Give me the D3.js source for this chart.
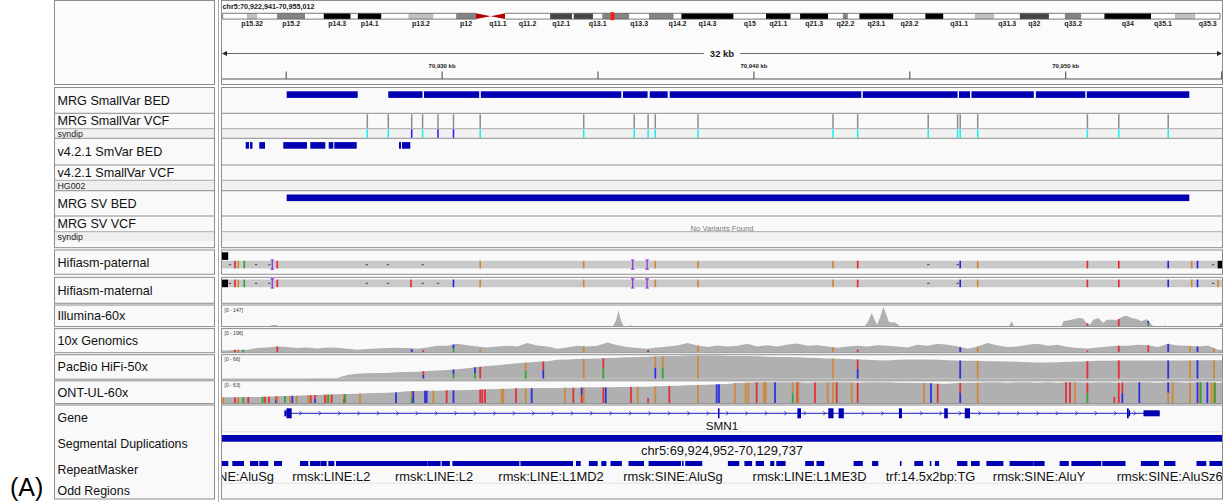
<!DOCTYPE html>
<html>
<head>
<meta charset="utf-8">
<title>SMN1 locus, chr5:70,922,941-70,955,012</title>
<script src="https://cdn.jsdelivr.net/npm/d3@7/dist/d3.min.js"></script>
<style>
  html, body { margin: 0; padding: 0; background: #ffffff; }
  svg { display: block; font-family: "Liberation Sans", Arial, Helvetica, sans-serif; }
</style>
</head>
<body>
<svg id="igv" width="1225" height="502"></svg>
<script>
// ---------------- region ----------------
const chrom = "chr5";
const viewStart = 70922941;
const viewEnd = 70955012;
const chromLength = 181538259;
const panelTag = "(A)";

// ---------------- cytobands (hg38 chr5) ----------------
const cytoBands = [
  ["p15.33", 0, 4400000, "gneg"], ["p15.32", 4400000, 6300000, "gpos25"],
  ["p15.31", 6300000, 9900000, "gneg"], ["p15.2", 9900000, 15000000, "gpos50"],
  ["p15.1", 15000000, 18400000, "gneg"], ["p14.3", 18400000, 23300000, "gpos100"],
  ["p14.2", 23300000, 24600000, "gneg"], ["p14.1", 24600000, 28900000, "gpos100"],
  ["p13.3", 28900000, 33800000, "gneg"], ["p13.2", 33800000, 38400000, "gpos25"],
  ["p13.1", 38400000, 42500000, "gneg"], ["p12", 42500000, 46100000, "gpos50"],
  ["p11", 46100000, 48800000, "acen"], ["q11.1", 48800000, 51400000, "acen"],
  ["q11.2", 51400000, 59600000, "gneg"], ["q12.1", 59600000, 63600000, "gpos75"],
  ["q12.2", 63600000, 63900000, "gneg"], ["q12.3", 63900000, 67400000, "gpos75"],
  ["q13.1", 67400000, 69100000, "gneg"], ["q13.2", 69100000, 74000000, "gpos50"],
  ["q13.3", 74000000, 77600000, "gneg"], ["q14.1", 77600000, 82100000, "gpos50"],
  ["q14.2", 82100000, 83500000, "gneg"], ["q14.3", 83500000, 93000000, "gpos100"],
  ["q15", 93000000, 98900000, "gneg"], ["q21.1", 98900000, 103400000, "gpos100"],
  ["q21.2", 103400000, 105100000, "gneg"], ["q21.3", 105100000, 110200000, "gpos100"],
  ["q22.1", 110200000, 112900000, "gneg"], ["q22.2", 112900000, 113800000, "gpos50"],
  ["q22.3", 113800000, 115900000, "gneg"], ["q23.1", 115900000, 122100000, "gpos100"],
  ["q23.2", 122100000, 127900000, "gneg"], ["q23.3", 127900000, 131200000, "gpos100"],
  ["q31.1", 131200000, 136900000, "gneg"], ["q31.2", 136900000, 140500000, "gpos25"],
  ["q31.3", 140500000, 145100000, "gneg"], ["q32", 145100000, 150400000, "gpos75"],
  ["q33.1", 150400000, 153300000, "gneg"], ["q33.2", 153300000, 156300000, "gpos50"],
  ["q33.3", 156300000, 160500000, "gneg"], ["q34", 160500000, 169000000, "gpos100"],
  ["q35.1", 169000000, 173300000, "gneg"], ["q35.2", 173300000, 177100000, "gpos25"],
  ["q35.3", 177100000, 181538259, "gneg"]
];
const bandLabels = ["p15.32", "p15.2", "p14.3", "p14.1", "p13.2", "p12", "q11.1", "q11.2",
  "q12.1", "q13.1", "q13.3", "q14.2", "q14.3", "q15", "q21.1", "q21.3", "q22.2", "q23.1",
  "q23.2", "q31.1", "q31.3", "q32", "q33.2", "q34", "q35.1", "q35.3"];

// ---------------- track names ----------------
const trackNames = ["MRG SmallVar BED", "MRG SmallVar VCF", "v4.2.1 SmVar BED", "v4.2.1 SmallVar VCF",
  "MRG SV BED", "MRG SV VCF", "Hifiasm-paternal", "Hifiasm-maternal", "Illumina-60x",
  "10x Genomics", "PacBio HiFi-50x", "ONT-UL-60x", "Gene", "Segmental Duplications",
  "RepeatMasker", "Odd Regions"];
const sampleNames = ["syndip", "HG002", "syndip"];

// ---------------- benchmark regions / variants ----------------
const mrgSmallVarBed = [
  [70925016, 70927293], [70928274, 70929371], [70929419, 70931190], [70931241, 70935747],
  [70935801, 70936590], [70936658, 70937235], [70937299, 70943444], [70943492, 70946532],
  [70946577, 70946930], [70946978, 70948976], [70949044, 70950628], [70950676, 70953963]
];
const mrgSmallVarVcf = [70927601, 70928274, 70929025, 70929374, 70929868, 70930365, 70931222,
  70934541, 70936161, 70936606, 70936837, 70938207, 70942536, 70943328, 70945590, 70946532,
  70946616, 70947177, 70950695, 70951702, 70953287];
const mrgSmallVarGenotype = ["HOM", "HOM", "HET", "HOM", "HET", "HET", "HOM", "HOM", "HOM", "HOM",
  "HOM", "HOM", "HOM", "HOM", "HOM", "HOM", "HOM", "HOM", "HOM", "HOM", "HOM"];
const giabSmVarBed = [
  [70923701, 70923807], [70923839, 70923919], [70924137, 70924320], [70924907, 70925667],
  [70925773, 70926254], [70926363, 70926511], [70926543, 70927261], [70928618, 70928682],
  [70928714, 70928980]
];
const giabSmallVarVcf = [];
const mrgSvBed = [[70925016, 70953963]];
const mrgSvVcf = [];

// ---------------- assembly contig alignments ----------------
// [start, end, row, kind]
const paternalAln = [[70922941, 70923140, 0, "clip"], [70922941, 70954860, 1, "contig"], [70954870, 70955012, 1, "clip"]];
const maternalAln = [[70922941, 70923140, 0, "clip"], [70923140, 70955012, 0, "contig"]];
// [position, base | D (deletion) | I (insertion)]
const paternalMarks = [
  [70923198, "D"], [70923358, "T"], [70923464, "G"], [70923656, "A"], [70924031, "D"],
  [70924458, "D"], [70924554, "I"], [70924715, "T"], [70927582, "D"], [70928255, "D"],
  [70929374, "D"], [70931222, "G"], [70934541, "G"], [70936113, "I"], [70936574, "I"],
  [70936837, "G"], [70938207, "G"], [70942536, "G"], [70943328, "T"], [70945590, "D"],
  [70946532, "D"], [70946616, "C"], [70947177, "G"], [70950695, "T"], [70951702, "T"],
  [70953287, "C"], [70954040, "G"], [70954226, "C"], [70954723, "D"]
];
const maternalMarks = [
  [70923198, "D"], [70923358, "T"], [70923464, "G"], [70923656, "A"], [70924031, "D"],
  [70924458, "D"], [70924554, "I"], [70924715, "T"], [70927582, "D"], [70928255, "D"],
  [70929002, "T"], [70929374, "D"], [70929868, "D"], [70930365, "C"], [70931222, "G"],
  [70934541, "G"], [70936113, "I"], [70936574, "I"], [70936837, "G"], [70938207, "G"],
  [70942536, "G"], [70943328, "T"], [70945590, "D"], [70946532, "D"], [70946616, "C"],
  [70947177, "G"], [70950695, "T"], [70951702, "T"], [70953287, "C"], [70954040, "G"],
  [70954226, "C"], [70954723, "D"], [70954884, "G"]
];

// ---------------- read coverage ----------------
const illuminaMax = 147;
const illuminaDepth = [
  [70922941, 0], [70924480, 0], [70924545, 8], [70924673, 8], [70924737, 0], [70935481, 0],
  [70935577, 40], [70935657, 115], [70935737, 40], [70935817, 0], [70935994, 0], [70936042, 7],
  [70936090, 0], [70943563, 0], [70943675, 40], [70943778, 95], [70943883, 40], [70943948, 10],
  [70944044, 60], [70944150, 140], [70944236, 90], [70944332, 30], [70944429, 25], [70944525, 27],
  [70944621, 10], [70944685, 0], [70948181, 0], [70948268, 35], [70948341, 0], [70949871, 0],
  [70949922, 35], [70950137, 44], [70950458, 61], [70950564, 54], [70950673, 22], [70950779, 10],
  [70950885, 46], [70951045, 59], [70951205, 22], [70951314, 46], [70951526, 46], [70951635, 42],
  [70951846, 71], [70951955, 76], [70952116, 59], [70952276, 51], [70952437, 35], [70952597, 51],
  [70952758, 10], [70952809, 0], [70953152, 0], [70953184, 7], [70953216, 0], [70954916, 0],
  [70954980, 22], [70955012, 22]
];
const covBinSize = 321;   // bp per coverage bin, bins start at viewStart
const tenxMax = 196;
const tenxDepth = [15, 21, 21, 36, 42, 50, 45, 36, 42, 33, 42, 39, 30, 21, 27, 33, 36, 39, 36, 30,
  42, 56, 56, 75, 62, 50, 42, 50, 56, 50, 80, 59, 50, 30, 42, 56, 50, 56, 86, 62, 45, 36, 30, 42,
  50, 59, 80, 59, 45, 59, 50, 56, 74, 50, 62, 50, 68, 77, 56, 62, 50, 39, 50, 56, 50, 62, 56, 50,
  42, 65, 56, 74, 65, 50, 30, 50, 80, 59, 45, 50, 65, 74, 56, 65, 45, 36, 33, 42, 50, 56, 56, 65,
  62, 45, 74, 59, 56, 50, 59, 21];
const hifiMax = 66;
const hifiDepth = [0, 0, 0, 0, 0, 0, 0, 0, 0, 1, 1, 2, 10, 14, 15, 16, 16, 18, 19, 20, 22, 23, 25,
  27, 30, 33, 36, 38, 41, 44, 46, 48, 50, 54, 55, 56, 57, 58, 59, 60, 61, 62, 63, 64, 65, 65, 66, 66,
  66, 66, 65, 65, 65, 64, 63, 62, 62, 61, 60, 59, 58, 57, 56, 55, 54, 53, 52, 54, 55, 55, 55, 54, 53,
  52, 51, 51, 50, 50, 49, 48, 47, 46, 46, 47, 48, 49, 50, 51, 51, 52, 52, 52, 52, 52, 52, 52, 52, 53,
  53, 53];
const ontMax = 63;
const ontDepth = [17, 17, 18, 18, 19, 20, 21, 22, 23, 24, 25, 26, 27, 28, 29, 30, 31, 32, 35, 36, 37,
  37, 38, 38, 39, 40, 41, 42, 43, 44, 44, 45, 45, 45, 46, 46, 47, 47, 47, 48, 48, 49, 49, 50, 51, 52,
  53, 54, 55, 56, 57, 60, 61, 62, 62, 62, 62, 62, 61, 62, 62, 62, 62, 61, 62, 62, 62, 61, 61, 60, 60,
  58, 58, 60, 61, 61, 62, 62, 61, 62, 62, 61, 62, 61, 62, 62, 61, 62, 62, 61, 62, 62, 62, 61, 62, 62,
  61, 62, 62, 61];

// mismatch columns: [position, bases (top to bottom), fraction of depth]
const illuminaMismatch = [[70950695, "T", 1], [70951702, "T", 1], [70952648, "CA", 1]];
const tenxMismatch = [
  [70923358, "T", 1], [70923464, "G", 1], [70923624, "A", 1], [70924715, "T", 1], [70929025, "C", 0.8],
  [70929397, "T", 0.5], [70930365, "CA", 1], [70931222, "G", 0.5], [70934541, "G", 1], [70936606, "TC", 0.6],
  [70938207, "G", 1], [70942536, "G", 1], [70943328, "T", 0.4], [70946616, "C", 1], [70947177, "G", 1],
  [70950695, "T", 0.4], [70951702, "T", 1], [70952648, "T", 1], [70953287, "C", 1], [70953986, "G", 1],
  [70954226, "C", 1], [70954755, "G", 1]
];
const hifiMismatch = [
  [70929397, "TC", 1], [70930365, "CA", 1], [70931055, "CA", 1], [70931222, "T", 1], [70932681, "GA", 1],
  [70933245, "TC", 1], [70934541, "G", 1], [70935170, "TA", 1], [70936837, "GC", 1], [70937075, "GA", 1],
  [70938207, "G", 1], [70942536, "G", 1], [70943328, "TC", 1], [70946616, "C", 1], [70947177, "G", 1],
  [70950695, "T", 1], [70951702, "T", 1], [70953287, "C", 1], [70953986, "G", 1], [70954226, "C", 1],
  [70954755, "G", 1]
];
const ontMismatch = [
  [70922983, "G", 1], [70923358, "T", 1], [70923464, "G", 1], [70923624, "A", 1], [70923784, "T", 1],
  [70924246, "A", 1], [70924320, "T", 1], [70924448, "T", 1], [70924673, "TC", 1], [70924715, "G", 1],
  [70924961, "A", 1], [70925122, "G", 1], [70925196, "C", 1], [70925337, "G", 1], [70925709, "G", 1],
  [70925786, "T", 1], [70925924, "TC", 1], [70926244, "T", 1], [70926299, "G", 1], [70926350, "A", 1],
  [70926459, "T", 1], [70926854, "GT", 1], [70926886, "A", 1], [70927367, "G", 1], [70928521, "C", 1],
  [70929025, "GA", 1], [70929076, "C", 1], [70929451, "C", 1], [70929506, "C", 1], [70929718, "G", 1],
  [70930147, "T", 1], [70930365, "C", 1], [70931222, "T", 1], [70931289, "T", 1], [70931376, "T", 1],
  [70931911, "G", 1], [70931963, "G", 1], [70932370, "T", 1], [70932681, "G", 1], [70932873, "C", 1],
  [70933941, "G", 1], [70934208, "T", 1], [70934477, "CT", 1], [70934541, "G", 1], [70935170, "T", 1],
  [70935247, "C", 1], [70936058, "T", 1], [70936273, "G", 1], [70936606, "T", 0.3], [70936837, "G", 1],
  [70937286, "T", 1], [70938207, "G", 1], [70938806, "C", 1], [70938880, "C", 1], [70939393, "G", 1],
  [70939737, "G", 1], [70939820, "G", 1], [70940089, "T", 1], [70940323, "G", 1], [70940378, "G", 1],
  [70940676, "C", 1], [70941244, "GA", 1], [70941391, "T", 1], [70941424, "G", 1], [70941959, "T", 1],
  [70942367, "G", 1], [70942536, "G", 1], [70942655, "T", 1], [70943136, "G", 1], [70943328, "T", 1],
  [70945455, "G", 1], [70945679, "C", 1], [70945894, "T", 1], [70946616, "TC", 1], [70947177, "G", 1],
  [70950009, "T", 1], [70950137, "T", 1], [70950298, "G", 1], [70950695, "TA", 1], [70951558, "T", 0.3],
  [70951702, "T", 1], [70951815, "TC", 1], [70952360, "C", 1], [70953287, "CG", 1], [70953431, "G", 1],
  [70953986, "G", 1], [70954226, "C", 1], [70954306, "G", 1], [70954329, "A", 1], [70954541, "C", 1],
  [70954681, "G", 1], [70954755, "G", 1], [70954787, "A", 1]
];

// ---------------- annotation ----------------
const geneName = "SMN1";
const geneStart = 70924941, geneEnd = 70953015;
const cdsStart = 70925010, cdsEnd = 70952020;
const smn1Exons = [
  [70924941, 70925176], [70938848, 70938896], [70941395, 70941510], [70942386, 70942552],
  [70942716, 70942883], [70944650, 70944749], [70946103, 70946218], [70946763, 70946930],
  [70951965, 70952049], [70952494, 70953015]
];
const segDups = [[70750300, 70955100, "chr5:69,924,952-70,129,737"]];
const repeatMasker = [
  [70922880, 70923143, "rmsk:SINE:AluSg"], [70923271, 70923647, ""], [70923839, 70924105, ""],
  [70924137, 70924426, ""], [70924609, 70924865, ""], [70925443, 70925709, ""],
  [70925763, 70926106, ""], [70926116, 70926299, ""], [70926350, 70926543, "rmsk:LINE:L2"],
  [70926597, 70929532, ""], [70929532, 70929952, "rmsk:LINE:L2"], [70929984, 70930250, ""],
  [70930330, 70932479, ""], [70932511, 70932787, ""], [70932787, 70934198, "rmsk:LINE:L1MD2"],
  [70934294, 70934445, ""], [70934708, 70934990, ""], [70935106, 70935269, ""],
  [70935401, 70935766, ""], [70935978, 70936475, ""], [70936622, 70937148, ""],
  [70937148, 70937662, "rmsk:SINE:AluSg"], [70937694, 70937745, ""], [70937796, 70938342, ""],
  [70939166, 70939531, ""], [70939695, 70939942, ""], [70940057, 70940323, ""],
  [70940522, 70940654, ""], [70940718, 70941016, ""], [70941645, 70941924, "rmsk:LINE:L1ME3D"],
  [70942007, 70942254, ""], [70943197, 70943492, ""], [70943790, 70943989, ""],
  [70944682, 70944733, ""], [70945144, 70945426, ""], [70945641, 70945689, "trf:14.5x2bp:TG"],
  [70945805, 70945939, ""], [70946516, 70946847, ""], [70946962, 70947241, ""],
  [70947456, 70948001, ""], [70948200, 70948967, ""], [70948967, 70949323, "rmsk:SINE:AluY"],
  [70949804, 70950099, ""], [70950182, 70951141, ""], [70951173, 70951917, ""],
  [70952411, 70952988, ""], [70953152, 70953518, "rmsk:SINE:AluSz6"], [70954194, 70954508, ""],
  [70954608, 70955044, ""]
];
const oddRegions = [];

// =====================================================================
const svg = d3.select("#igv");
const fmt = d3.format(",");
const X0 = 222, X1 = 1222;
const x = d3.scaleLinear().domain([viewStart, viewEnd]).range([X0, X1]);
const NAME_X0 = 54.5, NAME_X1 = 214.5, DATA_X0 = 221.5, DATA_X1 = 1222.5;
const FRAME = "#8c8c8c";
const PANEL = "#f9f9f9";
const FEATURE_BLUE = "#0000b2";
const COVER_GRAY = "#b0b0b0";
const baseColor = { A: "#2ba02d", C: "#2222e6", G: "#d2842c", T: "#e8232b" };
const gtColor = { HOM: "#16eef6", HET: "#2216f0" };

svg.append("defs").append("clipPath").attr("id", "clipData")
  .append("rect").attr("x", X0).attr("y", 0).attr("width", X1 - X0).attr("height", 502);

function box(x0, y0, x1, y1, fill) {
  return svg.append("rect").attr("x", x0).attr("y", y0).attr("width", x1 - x0).attr("height", y1 - y0)
    .attr("fill", fill).attr("stroke", FRAME).attr("stroke-width", 1);
}
function hline(x0, x1, y, color, w) {
  svg.append("line").attr("x1", x0).attr("x2", x1).attr("y1", y).attr("y2", y)
    .attr("stroke", color).attr("stroke-width", w || 1);
}
function nameText(label, y, size) {
  svg.append("text").attr("x", 57.5).attr("y", y).attr("font-size", size).attr("fill", "#111").text(label);
}
const dataLayer = () => svg.append("g").attr("clip-path", "url(#clipData)");

// ---------------- header ----------------
box(NAME_X0, 0.5, NAME_X1, 84.5, "#fcfcfc");
box(DATA_X0, 0.5, DATA_X1, 84.5, "#fbfbfb");

svg.append("text").attr("x", 222.5).attr("y", 9.3).attr("font-size", 7.2).attr("font-weight", "bold")
  .attr("fill", "#222").text(`${chrom}:${fmt(viewStart)}-${fmt(viewEnd)}`);

// ideogram
const ideo = d3.scaleLinear().domain([0, chromLength]).range([222.7, 1220]);
const IY = 13.3, IH = 5.8;
const stainFill = { gneg: "#ffffff", gpos25: "#c0c0c0", gpos50: "#848484", gpos75: "#464646", gpos100: "#000000" };
const gIdeo = svg.append("g");
cytoBands.forEach(([name, s, e, stain]) => {
  const a = ideo(s), b = ideo(e);
  if (stain === "acen") {
    const pts = name.startsWith("p")
      ? [[a, IY], [b, IY + IH / 2], [a, IY + IH]]
      : [[a, IY + IH / 2], [b, IY], [b, IY + IH]];
    gIdeo.append("polygon").attr("points", pts.map(p => p.join(",")).join(" ")).attr("fill", "#b30000");
  } else {
    gIdeo.append("rect").attr("x", a).attr("y", IY).attr("width", b - a).attr("height", IH)
      .attr("fill", stainFill[stain]);
    [IY, IY + IH].forEach(yy => gIdeo.append("line").attr("x1", a).attr("x2", b).attr("y1", yy).attr("y2", yy)
      .attr("stroke", "#5a5a5a").attr("stroke-width", 0.8));
  }
});
[ideo(0), ideo(chromLength)].forEach(xx => gIdeo.append("line").attr("x1", xx).attr("x2", xx)
  .attr("y1", IY).attr("y2", IY + IH).attr("stroke", "#5a5a5a").attr("stroke-width", 0.8));
cytoBands.filter(b => bandLabels.includes(b[0])).forEach(([name, s, e]) => {
  gIdeo.append("text").attr("x", (ideo(s) + ideo(e)) / 2).attr("y", 26).attr("text-anchor", "middle")
    .attr("font-size", 7).attr("font-weight", "bold").attr("fill", "#1e1e1e").text(name);
});
// current view marker
const mid = ideo((viewStart + viewEnd) / 2);
gIdeo.append("rect").attr("x", mid - 1.8).attr("y", 12.2).attr("width", 3.6).attr("height", 8)
  .attr("fill", "#ff1a1a");

// ruler
const RY = 53.5;
hline(X0 + 4, X1 - 4, RY, "#6a6a6a", 1);
svg.append("polygon").attr("points", `${X0},${RY} ${X0 + 5},${RY - 2.6} ${X0 + 5},${RY + 2.6}`).attr("fill", "#222");
svg.append("polygon").attr("points", `${X1},${RY} ${X1 - 5},${RY - 2.6} ${X1 - 5},${RY + 2.6}`).attr("fill", "#222");
const spanKb = Math.round((viewEnd - viewStart) / 1000);
const spanText = svg.append("text").attr("x", (X0 + X1) / 2).attr("y", RY + 3.3).attr("text-anchor", "middle")
  .attr("font-size", 9.5).attr("font-weight", "bold").attr("fill", "#1a1a1a").text(`${spanKb} kb`);
const tw = spanText.node().getComputedTextLength();
svg.insert("rect", () => spanText.node()).attr("x", (X0 + X1) / 2 - tw / 2 - 6).attr("y", RY - 3)
  .attr("width", tw + 12).attr("height", 6).attr("fill", "#fbfbfb");
const tickStep = 5000;
d3.range(Math.ceil(viewStart / tickStep) * tickStep, viewEnd + 1, tickStep).forEach(t => {
  svg.append("line").attr("x1", x(t)).attr("x2", x(t)).attr("y1", 71.5).attr("y2", 79)
    .attr("stroke", "#444").attr("stroke-width", 1);
  if (t % 10000 === 0) {
    svg.append("text").attr("x", x(t)).attr("y", 68.3).attr("text-anchor", "middle").attr("font-size", 6)
      .attr("font-weight", "bold").attr("fill", "#222").text(`${fmt(t / 1000)} kb`);
  }
});
hline(X0, X1, 79, "#555", 1);

// divider between name and data panels
svg.append("line").attr("x1", 218.5).attr("x2", 218.5).attr("y1", 0).attr("y2", 502)
  .attr("stroke", "#a8a8a8").attr("stroke-width", 1);

// ---------------- variant / benchmark tracks ----------------
const topTracks = [
  { label: trackNames[0], y0: 87.5, y1: 113.3, bed: mrgSmallVarBed },
  { label: trackNames[1], y0: 113.3, y1: 128.7, sample: sampleNames[0], sy1: 138.3, vcf: mrgSmallVarVcf, gt: mrgSmallVarGenotype },
  { label: trackNames[2], y0: 138.3, y1: 165, bed: giabSmVarBed },
  { label: trackNames[3], y0: 165, y1: 180.3, sample: sampleNames[1], sy1: 190.7, vcf: giabSmallVarVcf, gt: [] },
  { label: trackNames[4], y0: 190.7, y1: 216, bed: mrgSvBed },
  { label: trackNames[5], y0: 216, y1: 231.7, sample: sampleNames[2], sy1: 241.3, vcf: mrgSvVcf, gt: [], emptyNote: true }
];
box(NAME_X0, 87.5, NAME_X1, 247.7, PANEL);
box(DATA_X0, 87.5, DATA_X1, 247.7, PANEL);
topTracks.forEach((t, i) => {
  if (t.sample) {
    svg.append("rect").attr("x", NAME_X0 + 0.5).attr("y", t.y1).attr("width", NAME_X1 - NAME_X0 - 1)
      .attr("height", t.sy1 - t.y1).attr("fill", "#efefef");
    svg.append("rect").attr("x", DATA_X0 + 0.5).attr("y", t.y1).attr("width", DATA_X1 - DATA_X0 - 1)
      .attr("height", t.sy1 - t.y1).attr("fill", "#f1f1f1");
    hline(NAME_X0, NAME_X1, t.y1, "#a9a9a9");
    hline(DATA_X0, DATA_X1, t.y1, "#a9a9a9");
  }
  if (i > 0) {
    hline(NAME_X0, NAME_X1, t.y0, FRAME);
    hline(DATA_X0, DATA_X1, t.y0, FRAME);
  }
  nameText(t.label, (t.y0 + t.y1) / 2 + 4.4, 12.6);
  if (t.sample) {
    svg.append("text").attr("x", 57.5).attr("y", (t.y1 + t.sy1) / 2 + 3.1).attr("font-size", 8.8)
      .attr("fill", "#222").text(t.sample);
  }
  const g = dataLayer();
  if (t.bed) {
    g.selectAll(null).data(t.bed).join("rect")
      .attr("x", d => x(d[0])).attr("width", d => Math.max(1, x(d[1]) - x(d[0])))
      .attr("y", t.y0 + 3.8).attr("height", 6.6).attr("fill", FEATURE_BLUE);
  }
  if (t.vcf) {
    t.vcf.forEach((p, k) => {
      g.append("rect").attr("x", x(p) - 0.75).attr("width", 1.5).attr("y", t.y0 + 1)
        .attr("height", t.y1 - t.y0 - 1.6).attr("fill", "#8d8d8d");
      g.append("rect").attr("x", x(p) - 0.75).attr("width", 1.5).attr("y", t.y1 + 0.5)
        .attr("height", t.sy1 - t.y1 - 1).attr("fill", gtColor[t.gt[k]]);
    });
    if (t.emptyNote && t.vcf.length === 0) {
      svg.append("text").attr("x", (X0 + X1) / 2).attr("y", t.y1 - 0.4).attr("text-anchor", "middle")
        .attr("font-size", 7.6).attr("fill", "#7a7a7a").text("No Variants Found");
    }
  }
});

// ---------------- contig and read tracks ----------------
const alnTracks = [
  { label: trackNames[6], y0: 250, y1: 274.3 },
  { label: trackNames[7], y0: 277.3, y1: 303.3 },
  { label: trackNames[8], y0: 305, y1: 326.6 },
  { label: trackNames[9], y0: 328.6, y1: 352.7 },
  { label: trackNames[10], y0: 354.7, y1: 379.2 },
  { label: trackNames[11], y0: 380.8, y1: 403.6 }
];
alnTracks.forEach(t => {
  box(NAME_X0, t.y0, NAME_X1, t.y1, PANEL);
  box(DATA_X0, t.y0, DATA_X1, t.y1, PANEL);
  nameText(t.label, (t.y0 + t.y1) / 2 + 4.4, 12.6);
});

function drawContigs(t, alignments, marks, markRow) {
  const g = dataLayer();
  const rowY = r => t.y0 + 2.3 + r * 8.5;
  const rowH = 7.6;
  alignments.forEach(([s, e, row, kind]) => {
    g.append("rect").attr("x", x(s)).attr("width", x(e) - x(s)).attr("y", rowY(row)).attr("height", rowH)
      .attr("fill", kind === "clip" ? "#000" : "#c9c9c9");
  });
  const y0 = rowY(markRow), y1 = y0 + rowH;
  marks.forEach(([pos, type]) => {
    const px = x(pos);
    if (type === "D") {
      g.append("rect").attr("x", px - 1).attr("y", (y0 + y1) / 2 - 0.6).attr("width", 2.2).attr("height", 1.2)
        .attr("fill", "#555");
    } else if (type === "I") {
      const p = d3.path();
      p.moveTo(px, y0 - 0.8); p.lineTo(px, y1 + 0.8);
      p.moveTo(px - 1.8, y0 - 0.8); p.lineTo(px + 1.8, y0 - 0.8);
      p.moveTo(px - 1.8, y1 + 0.8); p.lineTo(px + 1.8, y1 + 0.8);
      g.append("path").attr("d", p.toString()).attr("stroke", "#8a2be2").attr("stroke-width", 1.2).attr("fill", "none");
    } else {
      g.append("rect").attr("x", px - 0.8).attr("width", 1.6).attr("y", y0).attr("height", rowH)
        .attr("fill", baseColor[type]);
    }
  });
}
drawContigs(alnTracks[0], paternalAln, paternalMarks, 1);
drawContigs(alnTracks[1], maternalAln, maternalMarks, 0);

function binPoints(vals) {
  const pts = vals.map((v, i) => [viewStart + (i + 0.5) * covBinSize, v]);
  return [[viewStart, vals[0]], ...pts, [viewEnd, vals[vals.length - 1]]];
}
function depthAt(pts, pos) {
  const i = d3.bisector(d => d[0]).right(pts, pos);
  if (i <= 0) return pts[0][1];
  if (i >= pts.length) return pts[pts.length - 1][1];
  const [p0, v0] = pts[i - 1], [p1, v1] = pts[i];
  return v0 + (v1 - v0) * (pos - p0) / (p1 - p0);
}
function drawCoverage(t, pts, max, plotH, mismatches, rangeText) {
  const base = t.y1 - 0.6;
  const y = d3.scaleLinear().domain([0, max]).range([base, base - plotH]);
  const g = dataLayer();
  g.append("path").datum(pts)
    .attr("d", d3.area().x(d => x(d[0])).y0(base).y1(d => y(d[1])))
    .attr("fill", COVER_GRAY);
  mismatches.forEach(([pos, bases, frac]) => {
    const h = (base - y(depthAt(pts, pos))) * frac;
    const seg = h / bases.length;
    [...bases].reverse().forEach((b, k) => {
      g.append("rect").attr("x", x(pos) - 0.9).attr("width", 1.8)
        .attr("y", base - seg * (k + 1)).attr("height", seg).attr("fill", baseColor[b]).attr("opacity", 0.9);
    });
  });
  svg.append("text").attr("x", 224.5).attr("y", t.y0 + 6.6).attr("font-size", 5).attr("fill", "#333")
    .text(rangeText);
}
drawCoverage(alnTracks[2], illuminaDepth, illuminaMax, 20, illuminaMismatch, `[0 - ${illuminaMax}]`);
drawCoverage(alnTracks[3], binPoints(tenxDepth), tenxMax, 22, tenxMismatch, `[0 - ${tenxMax}]`);
drawCoverage(alnTracks[4], binPoints(hifiDepth), hifiMax, 23, hifiMismatch, `[0 - ${hifiMax}]`);
drawCoverage(alnTracks[5], binPoints(ontDepth), ontMax, 21, ontMismatch, `[0 - ${ontMax}]`);

// ---------------- annotation tracks ----------------
box(NAME_X0, 405, NAME_X1, 499, PANEL);
box(DATA_X0, 405, DATA_X1, 499, PANEL);
const annotRows = [
  { label: trackNames[12], cy: 418 }, { label: trackNames[13], cy: 444 },
  { label: trackNames[14], cy: 470 }, { label: trackNames[15], cy: 491 }
];
annotRows.forEach(r => nameText(r.label, r.cy + 4.3, 12.4));
hline(DATA_X0 + 0.5, DATA_X1 - 0.5, 431.7, "#e2e2e2");
hline(DATA_X0 + 0.5, DATA_X1 - 0.5, 483.2, "#e2e2e2");

// gene model
const gG = dataLayer();
const GY = 413.3;
gG.append("line").attr("x1", x(geneStart)).attr("x2", x(geneEnd)).attr("y1", GY).attr("y2", GY)
  .attr("stroke", "#1c1cc4").attr("stroke-width", 1);
const inExon = px => smn1Exons.some(([s, e]) => px >= x(s) - 2 && px <= x(e) + 2);
for (let px = x(geneStart) + 16.5; px < x(geneEnd) - 4; px += 19.4) {
  if (inExon(px)) continue;
  gG.append("path").attr("d", `M${px - 1.4},${GY - 2} L${px + 0.6},${GY} L${px - 1.4},${GY + 2}`)
    .attr("stroke", "#1c1cc4").attr("stroke-width", 0.9).attr("fill", "none");
}
smn1Exons.forEach(([s, e]) => {
  const parts = [];
  const cs = Math.max(s, cdsStart), ce = Math.min(e, cdsEnd);
  if (cs < ce) {
    if (s < cs) parts.push([s, cs, false]);
    parts.push([cs, ce, true]);
    if (ce < e) parts.push([ce, e, false]);
  } else parts.push([s, e, false]);
  parts.forEach(([a, b, coding]) => {
    const h = coding ? 10 : 6;
    gG.append("rect").attr("x", x(a)).attr("width", Math.max(1.4, x(b) - x(a)))
      .attr("y", GY - h / 2).attr("height", h).attr("fill", FEATURE_BLUE);
  });
});
gG.append("text").attr("x", (x(geneStart) + x(geneEnd)) / 2).attr("y", 429.5).attr("text-anchor", "middle")
  .attr("font-size", 11.7).attr("fill", "#111").text(geneName);

// segmental duplications
const gS = dataLayer();
segDups.forEach(([s, e, partner]) => {
  const a = Math.max(x(s), X0), b = Math.min(x(e), X1);
  gS.append("rect").attr("x", a).attr("width", b - a).attr("y", 435).attr("height", 6.7).attr("fill", FEATURE_BLUE);
  gS.append("text").attr("x", (a + b) / 2).attr("y", 455.3).attr("text-anchor", "middle")
    .attr("font-size", 12.9).attr("fill", "#111").text(partner);
});

// repeats
const gR = dataLayer();
repeatMasker.forEach(([s, e, name]) => {
  gR.append("rect").attr("x", x(s)).attr("width", Math.max(1, x(e) - x(s))).attr("y", 461).attr("height", 5)
    .attr("fill", FEATURE_BLUE);
  if (name) {
    gR.append("text").attr("x", (x(s) + x(e)) / 2).attr("y", 480.6).attr("text-anchor", "middle")
      .attr("font-size", 12.9).attr("fill", "#111").text(name);
  }
});

// odd regions (none in view)
const gO = dataLayer();
gO.selectAll(null).data(oddRegions).join("rect")
  .attr("x", d => x(d[0])).attr("width", d => x(d[1]) - x(d[0])).attr("y", 488).attr("height", 5)
  .attr("fill", FEATURE_BLUE);

// panel tag
svg.append("text").attr("x", 10).attr("y", 496).attr("font-size", 25).attr("fill", "#000").text(panelTag);
</script>
</body>
</html>
